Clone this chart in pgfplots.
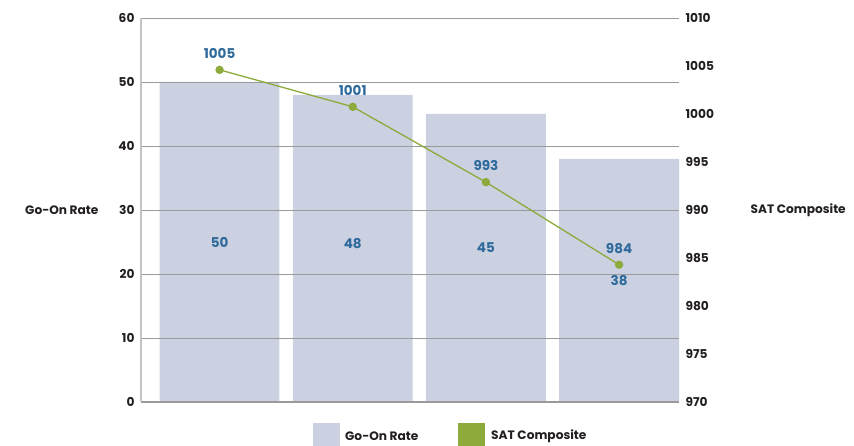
\documentclass[border=0pt]{standalone}
\usepackage{fontspec}
\setmainfont{Poppins}
\usepackage{pgfplots}
\pgfplotsset{compat=1.18}
\definecolor{barc}{HTML}{CBD1E1}
\definecolor{linec}{HTML}{8CAB3B}
\definecolor{labc}{HTML}{2E6A9C}
\definecolor{gridc}{HTML}{9A9A9A}
\definecolor{txt}{HTML}{231F20}
\definecolor{laxis}{HTML}{C4C4C4}
\newcommand{\tfont}{\fontsize{12.2}{15}\selectfont\bfseries}
\newcommand{\dfont}{\fontsize{13.5}{16}\selectfont\bfseries}
\begin{document}
\begin{tikzpicture}[x=1pt,y=1pt]
\useasboundingbox (-141,-44) rectangle (713,402);
\begin{axis}[
  at={(0,0)}, anchor=south west, scale only axis,
  width=538pt, height=384pt,
  xmin=-0.59, xmax=3.45, ymin=0, ymax=60,
  ytick={0,10,...,60}, xtick=\empty,
  axis x line*=bottom, axis y line*=left,
  x axis line style={-, color=gridc, line width=2.5pt},
  y axis line style={-, color=laxis, line width=2pt},
  ymajorgrids, grid style={gridc, line width=0.9pt},
  major tick style={draw=none},
  yticklabel style={font=\tfont, color=txt, xshift=-3pt},
  axis on top, clip=false,
  /pgf/number format/assume math mode=true,
]
\addplot[ybar, bar width=0.9, fill=barc, draw=none] coordinates {(0,50) (1,48) (2,45) (3,38)};
\addplot[draw=none, mark=none, nodes near coords, point meta=explicit symbolic,
  nodes near coords style={anchor=center, color=labc, font=\dfont}]
  coordinates {(0,25)[50] (1,24.8)[48] (2,24.2)[45] (3,18.9)[38]};
\node[anchor=east, font=\tfont, color=txt, xshift=-39pt] at (axis description cs:0,0.5) {Go-On Rate};
\node[anchor=west, font=\tfont, color=txt, xshift=68pt] at (axis description cs:1,0.5) {SAT Composite};
\end{axis}
\begin{axis}[
  at={(0,0)}, anchor=south west, scale only axis,
  width=538pt, height=384pt,
  xmin=-0.59, xmax=3.45, ymin=970, ymax=1010,
  ytick={970,975,...,1010}, xtick=\empty,
  axis x line=none, axis y line*=right,
  y axis line style={draw=none},
  major tick style={draw=none},
  yticklabel style={font=\tfont, color=txt, anchor=west, xshift=3pt},
  /pgf/number format/assume math mode=true,
  /pgf/number format/1000 sep={},
  clip=false,
]
\addplot[linec, line width=1.3pt, mark=*, mark size=3.5pt, mark options={fill=linec, draw=linec},
  nodes near coords, point meta=explicit symbolic,
  nodes near coords style={anchor=south, color=labc, font=\dfont, yshift=7.5pt}]
  coordinates {(0,1004.6)[1005] (1,1000.75)[1001] (2,992.9)[993] (3,984.3)[984]};
\end{axis}
\fill[barc] (172,-21) rectangle (199,-46);
\node[anchor=west, font=\tfont, color=txt, inner sep=0pt] at (204,-34) {Go-On Rate};
\fill[linec] (317,-21) rectangle (344,-46);
\node[anchor=west, font=\tfont, color=txt, inner sep=0pt] at (350,-34) {SAT Composite};
\end{tikzpicture}
\end{document}
